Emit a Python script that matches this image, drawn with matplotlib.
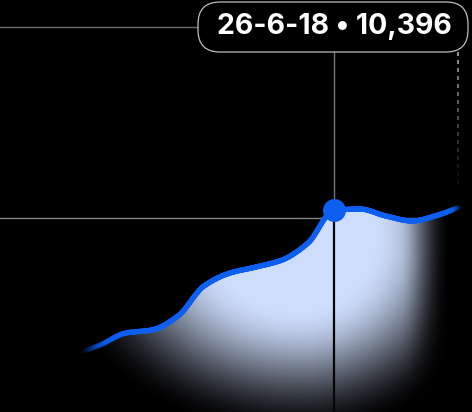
import numpy as np
import matplotlib
matplotlib.use("Agg")
import matplotlib.pyplot as plt
import matplotlib.dates as mdates
from matplotlib.collections import LineCollection
from matplotlib.patches import FancyBboxPatch, PathPatch
from matplotlib.path import Path
from matplotlib.transforms import IdentityTransform, blended_transform_factory
import datetime as dt

# ---------------- data ----------------
dates = ["2018-06-16", "2018-06-17", "2018-06-18", "2018-06-19", "2018-06-20",
         "2018-06-21", "2018-06-22", "2018-06-23", "2018-06-24", "2018-06-25",
         "2018-06-26", "2018-06-27", "2018-06-28", "2018-06-29", "2018-06-30",
         "2018-07-01"]
values = [2830, 3350, 3980, 4140, 4870, 6440, 7120, 7435, 7800, 8690,
          10396, 10470, 10105, 9845, 10155, 10680]
highlight_date = "2018-06-26"
grid_values = [10000, 20000]

# ---------------- helpers ----------------
def pchip(x, y, xs):
    x = np.asarray(x, float); y = np.asarray(y, float)
    h = np.diff(x); d = np.diff(y) / h
    n = len(x)
    m = np.zeros(n)
    for k in range(1, n - 1):
        if d[k - 1] * d[k] > 0:
            w1 = 2 * h[k] + h[k - 1]; w2 = h[k] + 2 * h[k - 1]
            m[k] = (w1 + w2) / (w1 / d[k - 1] + w2 / d[k])
    m[0] = d[0]; m[-1] = d[-1]
    idx = np.clip(np.searchsorted(x, xs) - 1, 0, n - 2)
    t = (xs - x[idx]) / h[idx]
    h00 = 2 * t**3 - 3 * t**2 + 1; h10 = t**3 - 2 * t**2 + t
    h01 = -2 * t**3 + 3 * t**2; h11 = t**3 - t**2
    return h00 * y[idx] + h10 * h[idx] * m[idx] + h01 * y[idx + 1] + h11 * h[idx] * m[idx + 1]

def smoothstep(a, b, v):
    t = np.clip((v - a) / (b - a), 0, 1)
    return t * t * (3 - 2 * t)

W, H, DPI = 472, 412, 100
fig = plt.figure(figsize=(W / DPI, H / DPI), dpi=DPI, facecolor="black")
ax = fig.add_axes([0, 0, 1, 1])
ax.set_facecolor("black")
ax.set_axis_off()

xd = mdates.date2num([dt.datetime.strptime(s, "%Y-%m-%d") for s in dates])
xh = mdates.date2num(dt.datetime.strptime(highlight_date, "%Y-%m-%d"))
vh = values[dates.index(highlight_date)]

XL = (xh - 334 / 26, xh + 138 / 26)
YL = (-3 / 191 * 10000, 409 / 191 * 10000)
ax.set_xlim(*XL)
ax.set_ylim(*YL)

xs = np.linspace(xd[0], xd[-1], 600)
ys = pchip(xd, values, xs)

# gridlines
ax.axhline(grid_values[1], xmin=0, xmax=198 / W, color="#6a6a6a", lw=1.0, zorder=1)
ax.axhline(grid_values[0], xmin=0, xmax=440 / W, color="#858585", lw=1.0, zorder=1)

# gradient fill
ylo = YL[0]
verts = np.vstack([np.column_stack([xs, ys]), [[xs[-1], ylo], [xs[0], ylo], [xs[0], ys[0]]]])
clip = PathPatch(Path(verts), transform=ax.transData, facecolor="none", edgecolor="none")
ax.add_patch(clip)
X, Y = np.meshgrid(np.arange(W) + 0.5, np.arange(H) + 0.5)
cx, cy = 300.0, 240.0
rx = np.where(X < cx, 240.0, 200.0)
ry = np.where(Y > cy, 190.0, 400.0)
r = np.sqrt(((X - cx) / rx) ** 2 + ((Y - cy) / ry) ** 2)
inten = (1 - smoothstep(0.35, 1.05, r)) * (1 - smoothstep(400, 452, X))
base = np.array([0.81, 0.87, 0.99])
img = np.zeros((H, W, 4))
img[..., :3] = base * inten[..., None]
img[..., 3] = 1.0
im = ax.imshow(img, extent=[XL[0], XL[1], YL[0], YL[1]],
               origin="upper", aspect="auto", zorder=2, interpolation="bilinear")
im.set_clip_path(clip)
ax.set_xlim(*XL)
ax.set_ylim(*YL)

# crosshair vertical
trans_px = ax.transData.inverted()
ytop = trans_px.transform((0, H - 52))[1]
ax.plot([xh, xh], [vh, ytop], color="#777777", lw=1.0, zorder=1.5)
ax.plot([xh, xh], [ylo, vh], color="#050505", lw=1.6, zorder=3)

# line with fading ends
pts = np.column_stack([xs, ys])
segs = np.stack([pts[:-1], pts[1:]], axis=1)
px = ax.transData.transform(pts)[:, 0]
pxm = 0.5 * (px[:-1] + px[1:])
alpha = smoothstep(78, 150, pxm) * (1 - smoothstep(436, 462, pxm))
lc_col = np.zeros((len(segs), 4))
lc_col[:, :3] = matplotlib.colors.to_rgb("#0d5ff2")
lc_col[:, 3] = alpha
lc = LineCollection(segs, colors=lc_col, linewidths=3.8, capstyle="round", zorder=4)
ax.add_collection(lc)
ax.plot([xh], [vh], "o", color="#0d5ff2", markersize=16.5, zorder=5, mec="none")

# dashed right marker
bt = blended_transform_factory(ax.transAxes, IdentityTransform())
dsegs, dcols = [], []
yy = H - 52
while yy > H - 186:
    dsegs.append([(458 / W, yy), (458 / W, yy - 4)])
    a = 1 - (H - 52 - yy) / 134
    dcols.append((0.75, 0.75, 0.75, max(0.1, a) * 0.9))
    yy -= 8
ax.add_collection(LineCollection(dsegs, colors=dcols, linewidths=1.2, transform=bt, zorder=1))

# tooltip
box = FancyBboxPatch((198, H - 52), 270, 50, boxstyle="round,pad=0,rounding_size=22",
                     transform=IdentityTransform(), facecolor="black", edgecolor="#bdbdbd",
                     lw=0.9, zorder=10)
fig.patches.append(box)
d = dt.datetime.strptime(highlight_date, "%Y-%m-%d")
label = f"{d.day}-{d.month}-{d.year % 100} \u2022 {vh:,}"
fig.text(334 / W, (H - 27) / H, label, ha="center", va="center", color="white",
         fontsize=20.5, fontweight="bold", family=["Inter", "DejaVu Sans"], zorder=11)

fig.savefig("out.png", dpi=DPI, facecolor="black")
